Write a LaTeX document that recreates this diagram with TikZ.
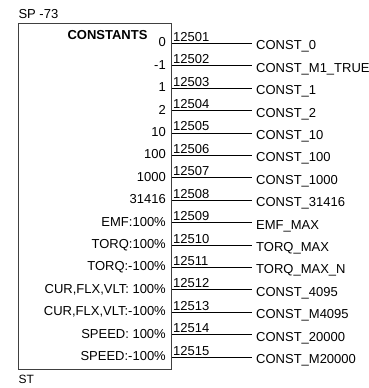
\documentclass[tikz,border=0pt]{standalone}
\usepackage{fontspec}
\setmainfont{Liberation Sans}
\usetikzlibrary{positioning}

\begin{document}
\begin{tikzpicture}[
    x=1pt, y=-1pt,
    % Bloco de constantes
    bloco/.style={
        draw=black!75, line width=1.1pt, inner sep=0pt,
        minimum width=153pt, minimum height=346.3pt
    },
    % Textos
    texto/.style={font=\fontsize{13}{15}\selectfont, inner sep=0pt},
    titulo/.style={texto, font=\fontsize{13}{15}\selectfont\bfseries, anchor=base},
    valor/.style={texto, anchor=base east},
    pino/.style={texto, anchor=base west},
    saida/.style={texto, anchor=base west},
    linha/.style={draw, line width=0.8pt}
]
\useasboundingbox (0,0) rectangle (369,388);

% ---- BLOCO ----
\node[bloco, anchor=north west] (bloco) at (18,22.7) {};
\node[pino] (sp)  at (18.3,18.3) {SP -73};
\node[pino, font=\fontsize{12}{14}\selectfont] (st) at (18.3,383.5) {ST};
\node[titulo] (tit) at (107.5,39.3) {CONSTANTS};

% ---- PINOS DE SAIDA ----
\coordinate (p1)  at (252,43.3);
\coordinate (p2)  at (252,65.7);
\coordinate (p3)  at (252,88.1);
\coordinate (p4)  at (252,110.5);
\coordinate (p5)  at (252,132.9);
\coordinate (p6)  at (252,155.4);
\coordinate (p7)  at (252,177.8);
\coordinate (p8)  at (252,200.2);
\coordinate (p9)  at (252,222.6);
\coordinate (p10) at (252,245.0);
\coordinate (p11) at (252,267.4);
\coordinate (p12) at (252,289.8);
\coordinate (p13) at (252,312.2);
\coordinate (p14) at (252,334.6);
\coordinate (p15) at (252,357.0);

\draw[linha] (bloco.east |- p1)  -- (p1);
\draw[linha] (bloco.east |- p2)  -- (p2);
\draw[linha] (bloco.east |- p3)  -- (p3);
\draw[linha] (bloco.east |- p4)  -- (p4);
\draw[linha] (bloco.east |- p5)  -- (p5);
\draw[linha] (bloco.east |- p6)  -- (p6);
\draw[linha] (bloco.east |- p7)  -- (p7);
\draw[linha] (bloco.east |- p8)  -- (p8);
\draw[linha] (bloco.east |- p9)  -- (p9);
\draw[linha] (bloco.east |- p10) -- (p10);
\draw[linha] (bloco.east |- p11) -- (p11);
\draw[linha] (bloco.east |- p12) -- (p12);
\draw[linha] (bloco.east |- p13) -- (p13);
\draw[linha] (bloco.east |- p14) -- (p14);
\draw[linha] (bloco.east |- p15) -- (p15);

% ---- VALORES (dentro do bloco) ----
\node[valor] (v1)  at (166,46.8)  {0};
\node[valor] (v2)  at (166,69.2)  {-1};
\node[valor] (v3)  at (166,91.6)  {1};
\node[valor] (v4)  at (166,114.0) {2};
\node[valor] (v5)  at (166,136.4) {10};
\node[valor] (v6)  at (166,158.9) {100};
\node[valor] (v7)  at (166,181.3) {1000};
\node[valor] (v8)  at (166,203.7) {31416};
\node[valor] (v9)  at (166,226.1) {EMF:100\%};
\node[valor] (v10) at (166,248.5) {TORQ:100\%};
\node[valor] (v11) at (166,270.9) {TORQ:-100\%};
\node[valor] (v12) at (166,293.3) {CUR,FLX,VLT: 100\%};
\node[valor] (v13) at (166,315.7) {CUR,FLX,VLT:-100\%};
\node[valor] (v14) at (166,338.1) {SPEED: 100\%};
\node[valor] (v15) at (166,360.5) {SPEED:-100\%};

% ---- NUMEROS DOS PINOS ----
\node[pino] (n1)  at (173,41.3)  {12501};
\node[pino] (n2)  at (173,63.7)  {12502};
\node[pino] (n3)  at (173,86.1)  {12503};
\node[pino] (n4)  at (173,108.5) {12504};
\node[pino] (n5)  at (173,130.9) {12505};
\node[pino] (n6)  at (173,153.4) {12506};
\node[pino] (n7)  at (173,175.8) {12507};
\node[pino] (n8)  at (173,198.2) {12508};
\node[pino] (n9)  at (173,220.6) {12509};
\node[pino] (n10) at (173,243.0) {12510};
\node[pino] (n11) at (173,265.4) {12511};
\node[pino] (n12) at (173,287.8) {12512};
\node[pino] (n13) at (173,310.2) {12513};
\node[pino] (n14) at (173,332.6) {12514};
\node[pino] (n15) at (173,355.0) {12515};

% ---- NOMES DAS SAIDAS ----
\node[saida] (s1)  at (256,49.8)  {CONST\_0};
\node[saida] (s2)  at (256,72.2)  {CONST\_M1\_TRUE};
\node[saida] (s3)  at (256,94.6)  {CONST\_1};
\node[saida] (s4)  at (256,117.0) {CONST\_2};
\node[saida] (s5)  at (256,139.4) {CONST\_10};
\node[saida] (s6)  at (256,161.9) {CONST\_100};
\node[saida] (s7)  at (256,184.3) {CONST\_1000};
\node[saida] (s8)  at (256,206.7) {CONST\_31416};
\node[saida] (s9)  at (256,229.1) {EMF\_MAX};
\node[saida] (s10) at (256,251.5) {TORQ\_MAX};
\node[saida] (s11) at (256,273.9) {TORQ\_MAX\_N};
\node[saida] (s12) at (256,296.3) {CONST\_4095};
\node[saida] (s13) at (256,318.7) {CONST\_M4095};
\node[saida] (s14) at (256,341.1) {CONST\_20000};
\node[saida] (s15) at (256,363.5) {CONST\_M20000};

\end{tikzpicture}
\end{document}
